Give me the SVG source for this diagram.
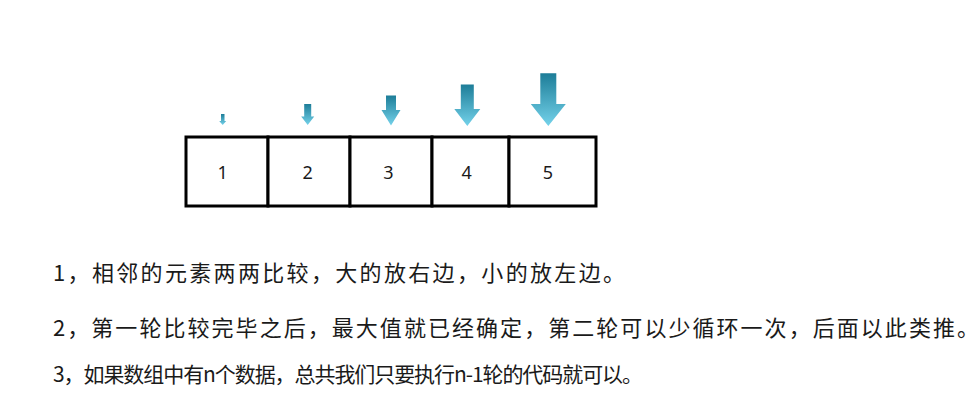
<svg xmlns="http://www.w3.org/2000/svg" width="978" height="414" viewBox="0 0 978 414">
  <style>
    .cell { fill: #ffffff; stroke: #000000; stroke-width: 3; }
    .num { font-family: "Noto Sans", "Liberation Sans", sans-serif; font-size: 18px; fill: #1a1a1a; text-anchor: middle; dominant-baseline: central; }
    .note { font-family: "Noto Sans CJK SC", "Noto Sans", sans-serif; font-size: 22px; fill: #1a1a1a; }
    .arrow { fill: url(#arrowGrad); }
  </style>
  <defs>
    <linearGradient id="arrowGrad" x1="0" y1="0" x2="0" y2="1">
      <stop offset="0" stop-color="#1d7d98"/>
      <stop offset="1" stop-color="#74d2ea"/>
    </linearGradient>
  </defs>
  <rect width="978" height="414" fill="#ffffff"/>

  <g id="arrows">
    <polygon class="arrow" points="221,114 224.5,114 224.5,121 226.2,121 222.7,125 219.2,121 221,121"/>
    <polygon class="arrow" points="304.2,104 311.2,104 311.2,116.5 314.2,116.5 307.7,125 301.2,116.5 304.2,116.5"/>
    <polygon class="arrow" points="386,95.5 396,95.5 396,110 400.5,110 391,125.5 381.5,110 386,110"/>
    <polygon class="arrow" points="460.8,84.5 473.8,84.5 473.8,109 480.3,109 467.3,126 454.3,109 460.8,109"/>
    <polygon class="arrow" points="540.3,73.3 556.3,73.3 556.3,104 565.8,104 548.3,126 530.8,104 540.3,104"/>
  </g>

  <g id="cell1"><rect class="cell" x="186" y="137" width="82" height="69"/><text class="num" x="222.7" y="171.5">1</text></g>
  <g id="cell2"><rect class="cell" x="268" y="137" width="82" height="69"/><text class="num" x="307.7" y="171.5">2</text></g>
  <g id="cell3"><rect class="cell" x="350" y="137" width="82" height="69"/><text class="num" x="388.5" y="171.5">3</text></g>
  <g id="cell4"><rect class="cell" x="432" y="137" width="77" height="69"/><text class="num" x="466.7" y="171.5">4</text></g>
  <g id="cell5"><rect class="cell" x="509" y="137" width="87" height="69"/><text class="num" x="548" y="171.5">5</text></g>

  <g id="notes">
    <text class="note" x="53" y="281" textLength="572" lengthAdjust="spacing">1，相邻的元素两两比较，大的放右边，小的放左边。</text>
    <text class="note" x="53" y="336" textLength="926" lengthAdjust="spacing">2，第一轮比较完毕之后，最大值就已经确定，第二轮可以少循环一次，后面以此类推。</text>
    <text class="note" x="53" y="382" style="font-size:21px" textLength="590" lengthAdjust="spacing">3，如果数组中有n个数据，总共我们只要执行n-1轮的代码就可以。</text>
  </g>
</svg>
